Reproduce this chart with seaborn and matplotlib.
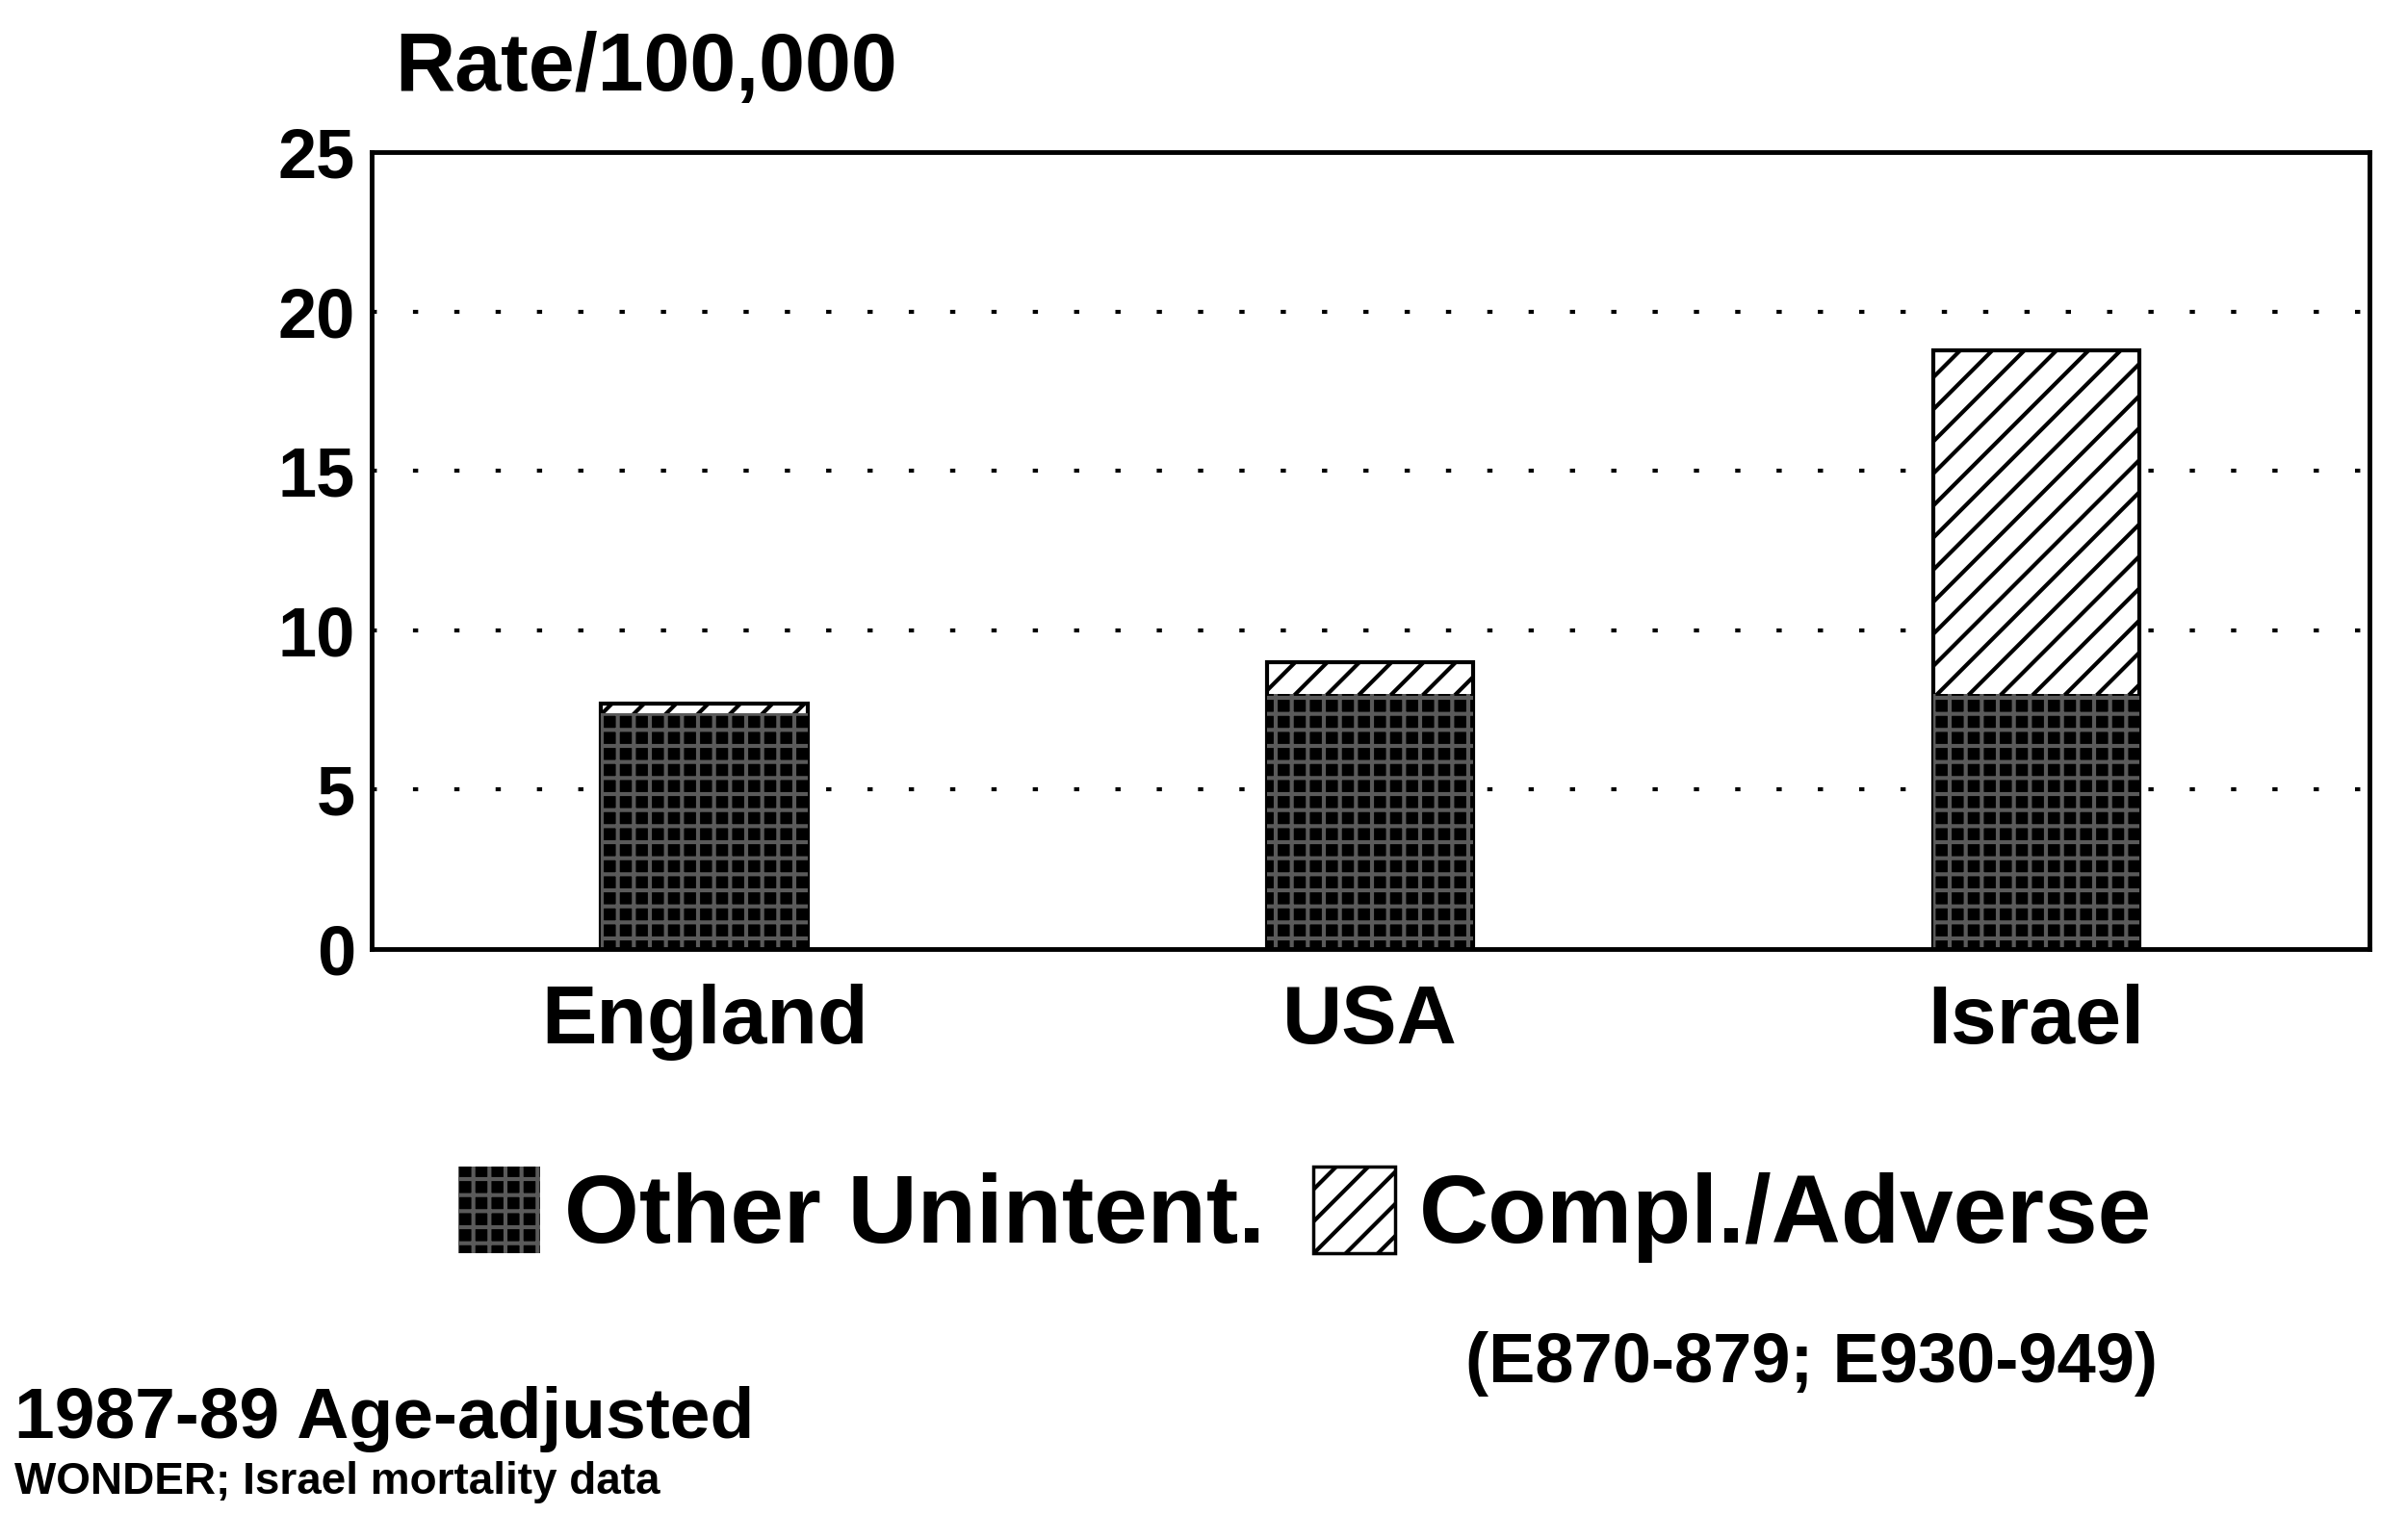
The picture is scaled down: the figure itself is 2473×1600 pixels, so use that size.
import matplotlib
matplotlib.use("Agg")
import matplotlib.pyplot as plt
from matplotlib.patches import Patch
import seaborn as sns
import pandas as pd

# values (rate per 100,000)
countries = ["England", "USA", "Israel"]
other_unintent = [7.4, 8.0, 8.0]
compl_adverse = [0.3, 1.0, 10.8]
yticks = [0, 5, 10, 15, 20, 25]

df = pd.DataFrame({"country": countries,
                   "other": other_unintent,
                   "compl": compl_adverse})
df["total"] = df["other"] + df["compl"]

sns.set_style("white")
plt.rcParams["font.family"] = ["Liberation Sans", "DejaVu Sans"]
plt.rcParams["font.weight"] = "bold"
plt.rcParams["text.color"] = "black"
plt.rcParams["xtick.color"] = "black"
plt.rcParams["ytick.color"] = "black"
plt.rcParams["hatch.linewidth"] = 3.0

fig = plt.figure(figsize=(24.73, 16), dpi=100)
ax = fig.add_axes([0.156, 0.384, 0.839, 0.517])

# stacked: total bars (hatched) underneath, other bars on top
sns.barplot(data=df, x="country", y="total", color="white", hatch="/",
            edgecolor="black", linewidth=3, width=0.31, saturation=1, ax=ax)
n_total = len(ax.patches)
sns.barplot(data=df, x="country", y="other", color="black",
            edgecolor="#5a5a5a", linewidth=0, width=0.31, saturation=1, ax=ax)
for p in ax.patches[n_total:]:
    p.set_hatch("+")

ax.set_xlim(-0.5, 2.5)
ax.set_ylim(0, 25)
ax.set_yticks(yticks)
ax.set_yticklabels([str(t) for t in yticks], fontsize=52, fontweight="bold")
ax.set_xticks(range(len(countries)))
ax.set_xticklabels(countries, fontsize=62, fontweight="bold")
ax.tick_params(axis="x", length=0, pad=26)
ax.tick_params(axis="y", length=0, pad=12)
ax.set_xlabel("")
ax.set_ylabel("")
for g in yticks[1:-1]:
    ax.axhline(g, color="black", lw=3, ls=(0, (1.3, 9)), zorder=0)
for s in ax.spines.values():
    s.set_visible(True)
    s.set_color("black")
    s.set_linewidth(3.5)

fig.text(0.166, 0.93, "Rate/100,000", fontsize=62, fontweight="bold",
         ha="left", va="bottom")

handles = [Patch(facecolor="black", edgecolor="#5a5a5a", hatch="+", lw=0),
           Patch(facecolor="white", edgecolor="black", hatch="/", lw=2.5)]
fig.legend(handles, ["Other Unintent.", "Compl./Adverse"], loc="center",
           bbox_to_anchor=(0.548, 0.211), ncol=2, frameon=False,
           handlelength=0.85, handleheight=1.0,
           handletextpad=0.25, columnspacing=0.5,
           prop={"weight": "bold", "size": 72})

fig.text(0.906, 0.093, "(E870-879; E930-949)", fontsize=52,
         fontweight="bold", ha="right", va="bottom")
fig.text(0.006, 0.057, "1987-89 Age-adjusted", fontsize=54,
         fontweight="bold", ha="left", va="bottom")
fig.text(0.006, 0.024, "WONDER; Israel mortality data", fontsize=33,
         fontweight="bold", ha="left", va="bottom")

fig.savefig("out.png", dpi=100)
